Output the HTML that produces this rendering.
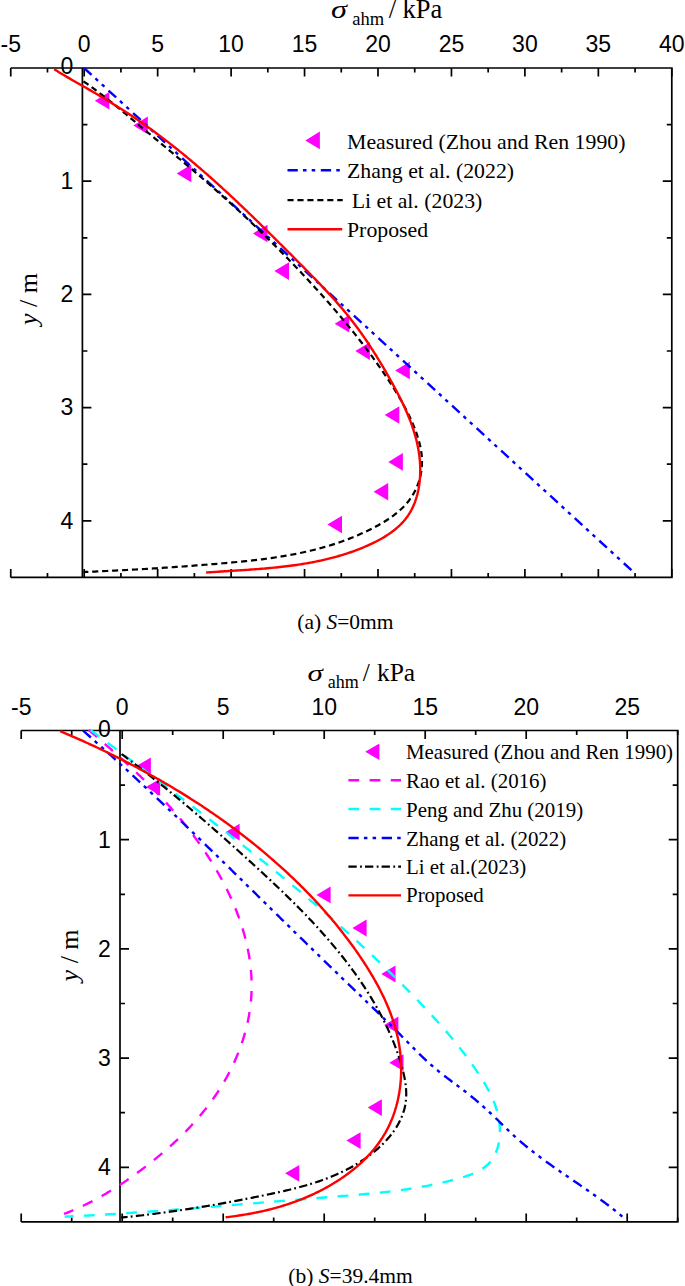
<!DOCTYPE html>
<html><head><meta charset="utf-8"><title>chart</title>
<style>
html,body{margin:0;padding:0;background:#fff;}
body{width:685px;height:1286px;overflow:hidden;font-family:"Liberation Sans",sans-serif;}
svg{display:block;}
</style></head><body>
<svg width="685" height="1286" viewBox="0 0 685 1286">
<rect width="685" height="1286" fill="#fff"/>
<path d="M10.75,68.00 H671.80 V577.40 H10.75" stroke="#000" stroke-width="1.7" fill="none"/>
<path d="M82.40,68.00 V577.40" stroke="#000" stroke-width="1.7" fill="none"/>
<path d="M10.75,68.00 v8.50 M10.75,577.40 v-8.50" stroke="#000" stroke-width="1.7" fill="none"/>
<text x="10.75" y="52.00" text-anchor="middle" font-family="Liberation Sans, sans-serif" font-size="23">-5</text>
<path d="M47.48,68.00 v4.50 M47.48,577.40 v-4.50" stroke="#000" stroke-width="1.7" fill="none"/>
<path d="M84.20,68.00 v8.50 M84.20,577.40 v-8.50" stroke="#000" stroke-width="1.7" fill="none"/>
<text x="84.20" y="52.00" text-anchor="middle" font-family="Liberation Sans, sans-serif" font-size="23">0</text>
<path d="M120.93,68.00 v4.50 M120.93,577.40 v-4.50" stroke="#000" stroke-width="1.7" fill="none"/>
<path d="M157.65,68.00 v8.50 M157.65,577.40 v-8.50" stroke="#000" stroke-width="1.7" fill="none"/>
<text x="157.65" y="52.00" text-anchor="middle" font-family="Liberation Sans, sans-serif" font-size="23">5</text>
<path d="M194.38,68.00 v4.50 M194.38,577.40 v-4.50" stroke="#000" stroke-width="1.7" fill="none"/>
<path d="M231.10,68.00 v8.50 M231.10,577.40 v-8.50" stroke="#000" stroke-width="1.7" fill="none"/>
<text x="231.10" y="52.00" text-anchor="middle" font-family="Liberation Sans, sans-serif" font-size="23">10</text>
<path d="M267.82,68.00 v4.50 M267.82,577.40 v-4.50" stroke="#000" stroke-width="1.7" fill="none"/>
<path d="M304.55,68.00 v8.50 M304.55,577.40 v-8.50" stroke="#000" stroke-width="1.7" fill="none"/>
<text x="304.55" y="52.00" text-anchor="middle" font-family="Liberation Sans, sans-serif" font-size="23">15</text>
<path d="M341.27,68.00 v4.50 M341.27,577.40 v-4.50" stroke="#000" stroke-width="1.7" fill="none"/>
<path d="M378.00,68.00 v8.50 M378.00,577.40 v-8.50" stroke="#000" stroke-width="1.7" fill="none"/>
<text x="378.00" y="52.00" text-anchor="middle" font-family="Liberation Sans, sans-serif" font-size="23">20</text>
<path d="M414.72,68.00 v4.50 M414.72,577.40 v-4.50" stroke="#000" stroke-width="1.7" fill="none"/>
<path d="M451.45,68.00 v8.50 M451.45,577.40 v-8.50" stroke="#000" stroke-width="1.7" fill="none"/>
<text x="451.45" y="52.00" text-anchor="middle" font-family="Liberation Sans, sans-serif" font-size="23">25</text>
<path d="M488.17,68.00 v4.50 M488.17,577.40 v-4.50" stroke="#000" stroke-width="1.7" fill="none"/>
<path d="M524.90,68.00 v8.50 M524.90,577.40 v-8.50" stroke="#000" stroke-width="1.7" fill="none"/>
<text x="524.90" y="52.00" text-anchor="middle" font-family="Liberation Sans, sans-serif" font-size="23">30</text>
<path d="M561.62,68.00 v4.50 M561.62,577.40 v-4.50" stroke="#000" stroke-width="1.7" fill="none"/>
<path d="M598.35,68.00 v8.50 M598.35,577.40 v-8.50" stroke="#000" stroke-width="1.7" fill="none"/>
<text x="598.35" y="52.00" text-anchor="middle" font-family="Liberation Sans, sans-serif" font-size="23">35</text>
<path d="M635.08,68.00 v4.50 M635.08,577.40 v-4.50" stroke="#000" stroke-width="1.7" fill="none"/>
<path d="M671.80,68.00 v8.50 M671.80,577.40 v-8.50" stroke="#000" stroke-width="1.7" fill="none"/>
<text x="671.80" y="52.00" text-anchor="middle" font-family="Liberation Sans, sans-serif" font-size="23">40</text>
<text x="73.40" y="74.40" text-anchor="end" font-family="Liberation Sans, sans-serif" font-size="23">0</text>
<path d="M82.40,124.60 h5.00 M671.80,124.60 h-5.00" stroke="#000" stroke-width="1.7" fill="none"/>
<path d="M82.40,181.20 h9.00 M671.80,181.20 h-9.00" stroke="#000" stroke-width="1.7" fill="none"/>
<text x="73.40" y="189.00" text-anchor="end" font-family="Liberation Sans, sans-serif" font-size="23">1</text>
<path d="M82.40,237.80 h5.00 M671.80,237.80 h-5.00" stroke="#000" stroke-width="1.7" fill="none"/>
<path d="M82.40,294.40 h9.00 M671.80,294.40 h-9.00" stroke="#000" stroke-width="1.7" fill="none"/>
<text x="73.40" y="302.20" text-anchor="end" font-family="Liberation Sans, sans-serif" font-size="23">2</text>
<path d="M82.40,351.00 h5.00 M671.80,351.00 h-5.00" stroke="#000" stroke-width="1.7" fill="none"/>
<path d="M82.40,407.60 h9.00 M671.80,407.60 h-9.00" stroke="#000" stroke-width="1.7" fill="none"/>
<text x="73.40" y="415.40" text-anchor="end" font-family="Liberation Sans, sans-serif" font-size="23">3</text>
<path d="M82.40,464.20 h5.00 M671.80,464.20 h-5.00" stroke="#000" stroke-width="1.7" fill="none"/>
<path d="M82.40,520.80 h9.00 M671.80,520.80 h-9.00" stroke="#000" stroke-width="1.7" fill="none"/>
<text x="73.40" y="528.60" text-anchor="end" font-family="Liberation Sans, sans-serif" font-size="23">4</text>
<path d="M21.20,730.50 H677.70 V1221.90 H21.20" stroke="#000" stroke-width="1.7" fill="none"/>
<path d="M120.00,730.50 V1221.90" stroke="#000" stroke-width="1.7" fill="none"/>
<path d="M21.20,730.50 v8.50 M21.20,1221.90 v-8.50" stroke="#000" stroke-width="1.7" fill="none"/>
<text x="21.20" y="714.50" text-anchor="middle" font-family="Liberation Sans, sans-serif" font-size="23">-5</text>
<path d="M71.70,730.50 v4.50 M71.70,1221.90 v-4.50" stroke="#000" stroke-width="1.7" fill="none"/>
<path d="M122.20,730.50 v8.50 M122.20,1221.90 v-8.50" stroke="#000" stroke-width="1.7" fill="none"/>
<text x="122.20" y="714.50" text-anchor="middle" font-family="Liberation Sans, sans-serif" font-size="23">0</text>
<path d="M172.70,730.50 v4.50 M172.70,1221.90 v-4.50" stroke="#000" stroke-width="1.7" fill="none"/>
<path d="M223.20,730.50 v8.50 M223.20,1221.90 v-8.50" stroke="#000" stroke-width="1.7" fill="none"/>
<text x="223.20" y="714.50" text-anchor="middle" font-family="Liberation Sans, sans-serif" font-size="23">5</text>
<path d="M273.70,730.50 v4.50 M273.70,1221.90 v-4.50" stroke="#000" stroke-width="1.7" fill="none"/>
<path d="M324.20,730.50 v8.50 M324.20,1221.90 v-8.50" stroke="#000" stroke-width="1.7" fill="none"/>
<text x="324.20" y="714.50" text-anchor="middle" font-family="Liberation Sans, sans-serif" font-size="23">10</text>
<path d="M374.70,730.50 v4.50 M374.70,1221.90 v-4.50" stroke="#000" stroke-width="1.7" fill="none"/>
<path d="M425.20,730.50 v8.50 M425.20,1221.90 v-8.50" stroke="#000" stroke-width="1.7" fill="none"/>
<text x="425.20" y="714.50" text-anchor="middle" font-family="Liberation Sans, sans-serif" font-size="23">15</text>
<path d="M475.70,730.50 v4.50 M475.70,1221.90 v-4.50" stroke="#000" stroke-width="1.7" fill="none"/>
<path d="M526.20,730.50 v8.50 M526.20,1221.90 v-8.50" stroke="#000" stroke-width="1.7" fill="none"/>
<text x="526.20" y="714.50" text-anchor="middle" font-family="Liberation Sans, sans-serif" font-size="23">20</text>
<path d="M576.70,730.50 v4.50 M576.70,1221.90 v-4.50" stroke="#000" stroke-width="1.7" fill="none"/>
<path d="M627.20,730.50 v8.50 M627.20,1221.90 v-8.50" stroke="#000" stroke-width="1.7" fill="none"/>
<text x="627.20" y="714.50" text-anchor="middle" font-family="Liberation Sans, sans-serif" font-size="23">25</text>
<path d="M677.70,730.50 v4.50 M677.70,1221.90 v-4.50" stroke="#000" stroke-width="1.7" fill="none"/>
<text x="110.80" y="736.90" text-anchor="end" font-family="Liberation Sans, sans-serif" font-size="23">0</text>
<path d="M120.00,785.10 h5.00 M677.70,785.10 h-5.00" stroke="#000" stroke-width="1.7" fill="none"/>
<path d="M120.00,839.70 h9.00 M677.70,839.70 h-9.00" stroke="#000" stroke-width="1.7" fill="none"/>
<text x="110.80" y="847.50" text-anchor="end" font-family="Liberation Sans, sans-serif" font-size="23">1</text>
<path d="M120.00,894.30 h5.00 M677.70,894.30 h-5.00" stroke="#000" stroke-width="1.7" fill="none"/>
<path d="M120.00,948.90 h9.00 M677.70,948.90 h-9.00" stroke="#000" stroke-width="1.7" fill="none"/>
<text x="110.80" y="956.70" text-anchor="end" font-family="Liberation Sans, sans-serif" font-size="23">2</text>
<path d="M120.00,1003.50 h5.00 M677.70,1003.50 h-5.00" stroke="#000" stroke-width="1.7" fill="none"/>
<path d="M120.00,1058.10 h9.00 M677.70,1058.10 h-9.00" stroke="#000" stroke-width="1.7" fill="none"/>
<text x="110.80" y="1065.90" text-anchor="end" font-family="Liberation Sans, sans-serif" font-size="23">3</text>
<path d="M120.00,1112.70 h5.00 M677.70,1112.70 h-5.00" stroke="#000" stroke-width="1.7" fill="none"/>
<path d="M120.00,1167.30 h9.00 M677.70,1167.30 h-9.00" stroke="#000" stroke-width="1.7" fill="none"/>
<text x="110.80" y="1175.10" text-anchor="end" font-family="Liberation Sans, sans-serif" font-size="23">4</text>
<polygon points="94.80,100.70 109.40,91.90 109.40,109.50" fill="#ff00ff"/>
<polygon points="133.30,125.40 147.90,116.60 147.90,134.20" fill="#ff00ff"/>
<polygon points="176.70,173.40 191.30,164.60 191.30,182.20" fill="#ff00ff"/>
<polygon points="252.90,233.50 267.50,224.70 267.50,242.30" fill="#ff00ff"/>
<polygon points="274.40,271.10 289.00,262.30 289.00,279.90" fill="#ff00ff"/>
<polygon points="334.70,323.80 349.30,315.00 349.30,332.60" fill="#ff00ff"/>
<polygon points="355.30,351.10 369.90,342.30 369.90,359.90" fill="#ff00ff"/>
<polygon points="395.20,370.50 409.80,361.70 409.80,379.30" fill="#ff00ff"/>
<polygon points="384.70,415.00 399.30,406.20 399.30,423.80" fill="#ff00ff"/>
<polygon points="388.30,461.90 402.90,453.10 402.90,470.70" fill="#ff00ff"/>
<polygon points="373.60,491.70 388.20,482.90 388.20,500.50" fill="#ff00ff"/>
<polygon points="327.40,524.50 342.00,515.70 342.00,533.30" fill="#ff00ff"/>
<path d="M84.00,68.00 L635.00,573.50" stroke="#0000ff" stroke-width="2.40" fill="none" stroke-dasharray="10.3 5.2 3.5 5.2 3.5 5.6" stroke-linejoin="round"/>
<path d="M83.49,81.38 L85.35,82.67 L87.21,83.97 L89.05,85.28 L90.89,86.60 L92.71,87.93 L94.53,89.26 L96.34,90.61 L98.15,91.97 L99.95,93.33 L101.74,94.70 L103.52,96.08 L105.30,97.46 L107.07,98.86 L108.83,100.25 L110.60,101.66 L112.35,103.07 L114.10,104.48 L115.85,105.90 L117.60,107.32 L119.34,108.75 L121.08,110.18 L122.81,111.62 L124.54,113.05 L126.28,114.49 L128.00,115.93 L129.73,117.38 L131.46,118.82 L133.19,120.27 L134.91,121.71 L136.64,123.16 L138.36,124.60 L140.09,126.05 L141.82,127.49 L143.55,128.94 L145.28,130.38 L147.01,131.82 L148.74,133.27 L150.47,134.71 L152.21,136.15 L153.94,137.59 L155.67,139.03 L157.40,140.47 L159.14,141.91 L160.87,143.36 L162.61,144.80 L164.34,146.24 L166.07,147.68 L167.81,149.12 L169.54,150.57 L171.27,152.01 L173.00,153.45 L174.74,154.90 L176.47,156.35 L178.20,157.79 L179.93,159.24 L181.65,160.69 L183.38,162.14 L185.11,163.59 L186.83,165.05 L188.56,166.50 L190.28,167.96 L192.00,169.42 L193.72,170.88 L195.44,172.34 L197.16,173.80 L198.87,175.27 L200.58,176.74 L202.29,178.21 L204.00,179.68 L205.71,181.16 L207.41,182.64 L209.12,184.12 L210.82,185.60 L212.51,187.09 L214.21,188.58 L215.90,190.07 L217.59,191.56 L219.28,193.06 L220.96,194.56 L222.65,196.07 L224.32,197.57 L226.00,199.08 L227.68,200.59 L229.35,202.11 L231.02,203.63 L232.68,205.15 L234.35,206.67 L236.01,208.20 L237.67,209.73 L239.32,211.26 L240.98,212.80 L242.63,214.34 L244.28,215.88 L245.92,217.42 L247.57,218.97 L249.21,220.52 L250.84,222.07 L252.48,223.63 L254.11,225.19 L255.74,226.75 L257.37,228.31 L258.99,229.88 L260.61,231.45 L262.23,233.02 L263.85,234.60 L265.46,236.17 L267.07,237.76 L268.68,239.34 L270.28,240.93 L271.88,242.52 L273.48,244.11 L275.08,245.70 L276.67,247.30 L278.26,248.90 L279.85,250.51 L281.43,252.11 L283.02,253.72 L284.60,255.33 L286.17,256.95 L287.75,258.57 L289.32,260.19 L290.88,261.81 L292.45,263.44 L294.01,265.06 L295.57,266.70 L297.13,268.33 L298.68,269.97 L300.23,271.61 L301.78,273.25 L303.32,274.89 L304.86,276.54 L306.40,278.19 L307.94,279.85 L309.47,281.50 L311.00,283.16 L312.53,284.82 L314.05,286.49 L315.57,288.16 L317.09,289.83 L318.60,291.50 L320.12,293.18 L321.62,294.85 L323.13,296.54 L324.63,298.22 L326.12,299.91 L327.62,301.60 L329.11,303.30 L330.59,304.99 L332.07,306.70 L333.55,308.40 L335.02,310.11 L336.49,311.82 L337.96,313.54 L339.42,315.25 L340.87,316.98 L342.33,318.70 L343.77,320.43 L345.21,322.17 L346.65,323.90 L348.08,325.65 L349.51,327.39 L350.93,329.14 L352.35,330.89 L353.76,332.65 L355.17,334.41 L356.57,336.18 L357.97,337.95 L359.36,339.72 L360.74,341.50 L362.12,343.28 L363.49,345.07 L364.86,346.86 L366.22,348.66 L367.58,350.46 L368.93,352.26 L370.27,354.07 L371.61,355.89 L372.94,357.71 L374.26,359.53 L375.58,361.36 L376.89,363.19 L378.20,365.03 L379.49,366.87 L380.79,368.72 L382.07,370.58 L383.35,372.44 L384.62,374.30 L385.88,376.17 L387.14,378.04 L388.38,379.92 L389.63,381.81 L390.86,383.70 L392.08,385.60 L393.30,387.50 L394.50,389.41 L395.69,391.33 L396.87,393.25 L398.04,395.18 L399.19,397.12 L400.33,399.07 L401.46,401.03 L402.57,403.00 L403.66,404.98 L404.73,406.97 L405.78,408.96 L406.82,410.97 L407.83,412.99 L408.83,415.03 L409.80,417.07 L410.75,419.12 L411.67,421.19 L412.57,423.27 L413.45,425.37 L414.30,427.48 L415.13,429.60 L415.92,431.74 L416.69,433.89 L417.41,436.05 L418.10,438.23 L418.75,440.41 L419.35,442.61 L419.90,444.81 L420.39,447.02 L420.82,449.24 L421.20,451.46 L421.50,453.69 L421.74,455.92 L421.90,458.15 L421.98,460.39 L421.99,462.63 L421.92,464.86 L421.77,467.09 L421.54,469.31 L421.24,471.52 L420.86,473.72 L420.41,475.91 L419.88,478.07 L419.28,480.22 L418.61,482.34 L417.87,484.44 L417.05,486.50 L416.17,488.54 L415.21,490.54 L414.19,492.51 L413.10,494.44 L411.94,496.33 L410.71,498.18 L409.42,499.97 L408.06,501.73 L406.65,503.43 L405.17,505.09 L403.63,506.71 L402.05,508.28 L400.41,509.81 L398.73,511.31 L397.00,512.76 L395.22,514.18 L393.41,515.56 L391.57,516.90 L389.69,518.21 L387.78,519.49 L385.84,520.73 L383.88,521.95 L381.90,523.13 L379.90,524.29 L377.88,525.42 L375.85,526.53 L373.81,527.61 L371.77,528.67 L369.71,529.70 L367.65,530.71 L365.59,531.71 L363.52,532.68 L361.44,533.62 L359.36,534.55 L357.27,535.46 L355.18,536.35 L353.09,537.21 L350.98,538.06 L348.88,538.89 L346.76,539.69 L344.65,540.48 L342.53,541.25 L340.40,542.01 L338.27,542.74 L336.13,543.46 L333.99,544.15 L331.85,544.84 L329.70,545.50 L327.55,546.15 L325.39,546.78 L323.23,547.40 L321.07,548.00 L318.90,548.58 L316.73,549.15 L314.55,549.70 L312.37,550.24 L310.19,550.77 L308.01,551.28 L305.82,551.78 L303.62,552.27 L301.43,552.74 L299.23,553.20 L297.03,553.64 L294.82,554.08 L292.62,554.50 L290.41,554.91 L288.19,555.31 L285.98,555.70 L283.76,556.07 L281.54,556.44 L279.32,556.80 L277.09,557.15 L274.87,557.48 L272.64,557.81 L270.41,558.13 L268.17,558.44 L265.94,558.74 L263.70,559.04 L261.47,559.32 L259.23,559.60 L256.99,559.87 L254.74,560.14 L252.50,560.39 L250.26,560.64 L248.01,560.89 L245.76,561.13 L243.52,561.36 L241.27,561.59 L239.02,561.81 L236.77,562.03 L234.52,562.25 L232.27,562.46 L230.02,562.66 L227.77,562.87 L225.51,563.07 L223.26,563.26 L221.01,563.46 L218.76,563.65 L216.50,563.84 L214.25,564.03 L212.00,564.22 L209.75,564.40 L207.50,564.58 L205.25,564.77 L202.99,564.94 L200.74,565.12 L198.49,565.30 L196.24,565.47 L193.99,565.64 L191.74,565.81 L189.49,565.98 L187.24,566.15 L184.98,566.31 L182.73,566.48 L180.48,566.64 L178.23,566.80 L175.98,566.96 L173.73,567.11 L171.48,567.27 L169.23,567.42 L166.97,567.57 L164.72,567.72 L162.47,567.87 L160.22,568.01 L157.97,568.16 L155.72,568.30 L153.47,568.44 L151.22,568.58 L148.96,568.72 L146.71,568.85 L144.46,568.99 L142.21,569.12 L139.96,569.25 L137.70,569.38 L135.45,569.51 L133.20,569.63 L130.95,569.76 L128.69,569.88 L126.44,570.00 L124.19,570.12 L121.93,570.24 L119.68,570.35 L117.43,570.47 L115.17,570.58 L112.92,570.69 L110.67,570.80 L108.41,570.91 L106.16,571.02 L103.90,571.12 L101.65,571.23 L99.39,571.33 L97.14,571.43 L94.88,571.53 L92.62,571.63 L90.37,571.73 L88.11,571.82 L85.86,571.91 L83.60,572.01" stroke="#000000" stroke-width="2.20" fill="none" stroke-dasharray="6.1 3.85" stroke-linejoin="round"/>
<path d="M54.16,69.16 L55.88,70.25 L57.61,71.33 L59.34,72.40 L61.08,73.46 L62.83,74.51 L64.59,75.56 L66.35,76.59 L68.12,77.62 L69.89,78.65 L71.66,79.67 L73.44,80.69 L75.23,81.70 L77.01,82.72 L78.80,83.73 L80.58,84.75 L82.37,85.77 L84.16,86.79 L85.95,87.81 L87.73,88.84 L89.52,89.87 L91.30,90.91 L93.09,91.94 L94.87,92.98 L96.65,94.03 L98.43,95.08 L100.21,96.13 L101.98,97.19 L103.76,98.25 L105.53,99.31 L107.30,100.38 L109.06,101.45 L110.83,102.53 L112.59,103.62 L114.35,104.70 L116.10,105.80 L117.85,106.90 L119.60,108.00 L121.35,109.11 L123.09,110.22 L124.82,111.34 L126.56,112.46 L128.28,113.59 L130.01,114.73 L131.73,115.87 L133.44,117.02 L135.15,118.17 L136.86,119.33 L138.56,120.50 L140.26,121.67 L141.95,122.85 L143.64,124.03 L145.32,125.22 L147.00,126.41 L148.67,127.61 L150.34,128.81 L152.01,130.02 L153.67,131.24 L155.33,132.46 L156.98,133.68 L158.64,134.91 L160.28,136.14 L161.92,137.38 L163.56,138.63 L165.20,139.88 L166.83,141.13 L168.45,142.39 L170.08,143.65 L171.70,144.92 L173.31,146.20 L174.93,147.47 L176.54,148.76 L178.14,150.04 L179.74,151.33 L181.34,152.63 L182.94,153.93 L184.53,155.23 L186.12,156.54 L187.70,157.85 L189.28,159.17 L190.86,160.49 L192.44,161.81 L194.01,163.14 L195.58,164.47 L197.15,165.80 L198.71,167.14 L200.27,168.48 L201.83,169.83 L203.38,171.18 L204.93,172.53 L206.48,173.89 L208.03,175.25 L209.57,176.61 L211.11,177.98 L212.65,179.35 L214.19,180.72 L215.72,182.10 L217.25,183.48 L218.78,184.86 L220.31,186.25 L221.83,187.64 L223.35,189.03 L224.87,190.42 L226.39,191.82 L227.90,193.22 L229.42,194.62 L230.93,196.03 L232.43,197.43 L233.94,198.84 L235.44,200.25 L236.95,201.67 L238.45,203.09 L239.95,204.51 L241.44,205.93 L242.94,207.35 L244.43,208.78 L245.92,210.20 L247.41,211.63 L248.90,213.07 L250.39,214.50 L251.87,215.93 L253.36,217.37 L254.84,218.81 L256.32,220.25 L257.80,221.69 L259.28,223.14 L260.75,224.58 L262.23,226.03 L263.70,227.48 L265.17,228.93 L266.65,230.38 L268.12,231.83 L269.59,233.28 L271.06,234.74 L272.52,236.19 L273.99,237.65 L275.46,239.11 L276.92,240.57 L278.38,242.03 L279.85,243.49 L281.31,244.95 L282.77,246.41 L284.23,247.87 L285.70,249.33 L287.16,250.80 L288.62,252.26 L290.07,253.72 L291.53,255.19 L292.99,256.65 L294.45,258.12 L295.91,259.59 L297.37,261.05 L298.82,262.52 L300.28,263.98 L301.73,265.45 L303.19,266.92 L304.64,268.39 L306.09,269.86 L307.54,271.33 L308.99,272.80 L310.44,274.28 L311.88,275.75 L313.32,277.23 L314.76,278.71 L316.19,280.19 L317.62,281.68 L319.05,283.17 L320.47,284.66 L321.89,286.15 L323.30,287.65 L324.71,289.15 L326.11,290.66 L327.51,292.17 L328.91,293.68 L330.30,295.20 L331.68,296.72 L333.05,298.24 L334.42,299.77 L335.79,301.31 L337.14,302.85 L338.49,304.40 L339.83,305.95 L341.17,307.50 L342.49,309.07 L343.81,310.63 L345.12,312.21 L346.42,313.79 L347.72,315.38 L349.00,316.97 L350.27,318.57 L351.54,320.18 L352.79,321.80 L354.04,323.42 L355.28,325.05 L356.50,326.68 L357.72,328.33 L358.93,329.98 L360.13,331.64 L361.32,333.30 L362.50,334.97 L363.68,336.65 L364.84,338.33 L366.00,340.02 L367.15,341.72 L368.29,343.42 L369.42,345.13 L370.55,346.85 L371.67,348.57 L372.78,350.29 L373.89,352.03 L374.99,353.77 L376.08,355.51 L377.16,357.26 L378.24,359.02 L379.31,360.78 L380.38,362.55 L381.44,364.32 L382.50,366.09 L383.55,367.88 L384.59,369.66 L385.63,371.46 L386.66,373.25 L387.69,375.06 L388.71,376.86 L389.73,378.67 L390.75,380.49 L391.76,382.31 L392.76,384.14 L393.76,385.97 L394.75,387.80 L395.73,389.64 L396.71,391.48 L397.68,393.33 L398.63,395.19 L399.58,397.05 L400.51,398.91 L401.43,400.78 L402.34,402.65 L403.24,404.53 L404.12,406.42 L404.98,408.31 L405.83,410.20 L406.67,412.10 L407.48,414.01 L408.28,415.92 L409.06,417.84 L409.82,419.76 L410.56,421.69 L411.27,423.62 L411.97,425.56 L412.64,427.51 L413.29,429.46 L413.92,431.42 L414.52,433.38 L415.10,435.35 L415.65,437.32 L416.17,439.31 L416.66,441.29 L417.13,443.29 L417.57,445.29 L417.97,447.29 L418.35,449.31 L418.69,451.32 L419.00,453.35 L419.28,455.38 L419.53,457.42 L419.74,459.46 L419.91,461.52 L420.05,463.57 L420.16,465.64 L420.22,467.71 L420.25,469.79 L420.24,471.87 L420.19,473.96 L420.09,476.04 L419.96,478.13 L419.79,480.21 L419.57,482.29 L419.30,484.36 L419.00,486.42 L418.65,488.47 L418.25,490.50 L417.80,492.52 L417.31,494.53 L416.77,496.51 L416.18,498.47 L415.54,500.42 L414.85,502.33 L414.10,504.22 L413.31,506.08 L412.46,507.91 L411.56,509.70 L410.60,511.46 L409.59,513.18 L408.52,514.87 L407.39,516.51 L406.21,518.11 L404.98,519.67 L403.69,521.19 L402.35,522.67 L400.96,524.11 L399.53,525.52 L398.05,526.89 L396.53,528.22 L394.97,529.52 L393.37,530.78 L391.73,532.01 L390.06,533.21 L388.36,534.37 L386.63,535.51 L384.87,536.61 L383.09,537.69 L381.28,538.73 L379.45,539.75 L377.60,540.74 L375.73,541.71 L373.85,542.65 L371.95,543.57 L370.05,544.46 L368.13,545.33 L366.20,546.18 L364.27,547.01 L362.34,547.82 L360.40,548.61 L358.45,549.37 L356.50,550.12 L354.55,550.85 L352.59,551.56 L350.63,552.25 L348.66,552.92 L346.69,553.58 L344.72,554.21 L342.74,554.83 L340.76,555.43 L338.77,556.02 L336.78,556.59 L334.79,557.14 L332.79,557.68 L330.79,558.20 L328.79,558.70 L326.78,559.19 L324.77,559.67 L322.76,560.13 L320.75,560.57 L318.73,561.01 L316.71,561.43 L314.69,561.83 L312.66,562.23 L310.63,562.61 L308.60,562.98 L306.57,563.33 L304.53,563.68 L302.50,564.01 L300.46,564.34 L298.42,564.65 L296.37,564.95 L294.33,565.24 L292.28,565.52 L290.24,565.79 L288.19,566.06 L286.14,566.31 L284.08,566.56 L282.03,566.79 L279.98,567.02 L277.92,567.24 L275.87,567.46 L273.81,567.66 L271.75,567.86 L269.70,568.06 L267.64,568.25 L265.58,568.43 L263.52,568.60 L261.46,568.77 L259.40,568.94 L257.34,569.10 L255.28,569.26 L253.22,569.41 L251.16,569.56 L249.10,569.71 L247.05,569.85 L244.99,569.99 L242.93,570.13 L240.87,570.27 L238.82,570.40 L236.76,570.53 L234.71,570.66 L232.65,570.79 L230.60,570.92 L228.55,571.05 L226.50,571.18 L224.45,571.31 L222.41,571.44 L220.36,571.57 L218.32,571.70 L216.28,571.84 L214.24,571.97 L212.20,572.11 L210.16,572.25 L208.13,572.39 L206.10,572.54" stroke="#ff0000" stroke-width="2.40" fill="none" stroke-linejoin="round"/>
<polygon points="136.70,765.80 150.90,757.40 150.90,774.20" fill="#ff00ff"/>
<polygon points="145.90,787.10 160.10,778.70 160.10,795.50" fill="#ff00ff"/>
<polygon points="225.40,832.20 239.60,823.80 239.60,840.60" fill="#ff00ff"/>
<polygon points="316.40,894.90 330.60,886.50 330.60,903.30" fill="#ff00ff"/>
<polygon points="352.40,928.00 366.60,919.60 366.60,936.40" fill="#ff00ff"/>
<polygon points="381.30,974.00 395.50,965.60 395.50,982.40" fill="#ff00ff"/>
<polygon points="384.20,1025.00 398.40,1016.60 398.40,1033.40" fill="#ff00ff"/>
<polygon points="389.30,1062.70 403.50,1054.30 403.50,1071.10" fill="#ff00ff"/>
<polygon points="367.70,1107.60 381.90,1099.20 381.90,1116.00" fill="#ff00ff"/>
<polygon points="346.40,1140.60 360.60,1132.20 360.60,1149.00" fill="#ff00ff"/>
<polygon points="285.10,1173.30 299.30,1164.90 299.30,1181.70" fill="#ff00ff"/>
<path d="M88.80,729.94 L90.01,730.98 L91.22,732.03 L92.43,733.07 L93.63,734.12 L94.84,735.16 L96.04,736.20 L97.24,737.25 L98.44,738.29 L99.63,739.33 L100.83,740.37 L102.02,741.42 L103.21,742.46 L104.40,743.50 L105.59,744.54 L106.78,745.59 L107.96,746.63 L109.14,747.67 L110.32,748.72 L111.50,749.76 L112.68,750.81 L113.85,751.85 L115.02,752.90 L116.19,753.95 L117.36,755.00 L118.52,756.04 L119.69,757.09 L120.85,758.14 L122.01,759.20 L123.16,760.25 L124.32,761.30 L125.47,762.36 L126.62,763.41 L127.76,764.47 L128.91,765.53 L130.05,766.59 L131.19,767.65 L132.33,768.71 L133.46,769.78 L134.60,770.84 L135.73,771.91 L136.85,772.98 L137.98,774.05 L139.10,775.13 L140.22,776.20 L141.33,777.28 L142.45,778.36 L143.56,779.44 L144.67,780.53 L145.77,781.61 L146.87,782.70 L147.97,783.79 L149.07,784.88 L150.16,785.98 L151.25,787.08 L152.34,788.18 L153.43,789.28 L154.51,790.39 L155.59,791.50 L156.66,792.61 L157.73,793.72 L158.80,794.84 L159.87,795.96 L160.93,797.09 L161.99,798.21 L163.05,799.34 L164.10,800.48 L165.15,801.61 L166.20,802.75 L167.24,803.90 L168.28,805.04 L169.32,806.19 L170.35,807.35 L171.38,808.51 L172.40,809.67 L173.43,810.83 L174.45,812.00 L175.46,813.18 L176.47,814.35 L177.48,815.53 L178.48,816.72 L179.48,817.91 L180.48,819.10 L181.47,820.30 L182.46,821.50 L183.45,822.71 L184.43,823.92 L185.41,825.13 L186.38,826.35 L187.35,827.58 L188.32,828.81 L189.28,830.04 L190.24,831.28 L191.19,832.52 L192.14,833.77 L193.09,835.03 L194.03,836.29 L194.97,837.55 L195.90,838.82 L196.83,840.09 L197.75,841.37 L198.67,842.65 L199.59,843.94 L200.50,845.23 L201.41,846.53 L202.31,847.83 L203.20,849.14 L204.09,850.45 L204.98,851.77 L205.86,853.09 L206.73,854.42 L207.60,855.74 L208.47,857.08 L209.33,858.42 L210.18,859.76 L211.03,861.11 L211.87,862.46 L212.70,863.81 L213.53,865.17 L214.35,866.53 L215.17,867.90 L215.98,869.27 L216.78,870.65 L217.58,872.03 L218.37,873.41 L219.15,874.80 L219.93,876.19 L220.69,877.58 L221.46,878.98 L222.21,880.38 L222.96,881.78 L223.70,883.19 L224.43,884.60 L225.16,886.02 L225.87,887.43 L226.58,888.86 L227.29,890.28 L227.98,891.71 L228.67,893.14 L229.34,894.57 L230.01,896.01 L230.68,897.45 L231.33,898.90 L231.97,900.34 L232.61,901.79 L233.24,903.24 L233.86,904.70 L234.47,906.16 L235.07,907.62 L235.66,909.08 L236.24,910.54 L236.81,912.01 L237.38,913.48 L237.93,914.96 L238.48,916.43 L239.01,917.91 L239.54,919.39 L240.05,920.87 L240.56,922.36 L241.06,923.85 L241.54,925.33 L242.02,926.83 L242.48,928.32 L242.94,929.81 L243.38,931.31 L243.82,932.81 L244.24,934.31 L244.65,935.82 L245.06,937.32 L245.45,938.83 L245.83,940.33 L246.20,941.84 L246.55,943.36 L246.90,944.87 L247.23,946.38 L247.56,947.90 L247.87,949.42 L248.17,950.94 L248.46,952.46 L248.74,953.98 L249.00,955.50 L249.25,957.02 L249.49,958.55 L249.72,960.07 L249.94,961.60 L250.14,963.13 L250.33,964.66 L250.51,966.19 L250.67,967.72 L250.83,969.25 L250.97,970.78 L251.09,972.32 L251.21,973.85 L251.31,975.38 L251.39,976.92 L251.47,978.46 L251.53,979.99 L251.58,981.53 L251.61,983.06 L251.63,984.60 L251.63,986.14 L251.62,987.68 L251.60,989.22 L251.57,990.75 L251.51,992.29 L251.45,993.83 L251.37,995.37 L251.28,996.91 L251.17,998.45 L251.04,999.98 L250.91,1001.52 L250.75,1003.06 L250.59,1004.60 L250.41,1006.14 L250.21,1007.67 L250.00,1009.21 L249.78,1010.74 L249.54,1012.28 L249.29,1013.81 L249.02,1015.34 L248.74,1016.87 L248.45,1018.40 L248.14,1019.93 L247.82,1021.45 L247.49,1022.98 L247.14,1024.50 L246.79,1026.02 L246.41,1027.54 L246.03,1029.06 L245.63,1030.57 L245.22,1032.08 L244.80,1033.59 L244.36,1035.10 L243.91,1036.60 L243.45,1038.10 L242.98,1039.60 L242.49,1041.10 L242.00,1042.59 L241.49,1044.08 L240.97,1045.57 L240.43,1047.05 L239.89,1048.53 L239.33,1050.01 L238.77,1051.48 L238.19,1052.95 L237.60,1054.41 L236.99,1055.87 L236.38,1057.33 L235.76,1058.78 L235.12,1060.23 L234.48,1061.67 L233.82,1063.11 L233.16,1064.54 L232.48,1065.97 L231.79,1067.40 L231.09,1068.82 L230.39,1070.23 L229.67,1071.64 L228.94,1073.05 L228.20,1074.44 L227.45,1075.84 L226.69,1077.23 L225.93,1078.61 L225.15,1079.98 L224.36,1081.35 L223.57,1082.72 L222.76,1084.08 L221.94,1085.43 L221.12,1086.77 L220.29,1088.11 L219.45,1089.44 L218.60,1090.77 L217.74,1092.09 L216.87,1093.40 L215.99,1094.71 L215.11,1096.01 L214.21,1097.30 L213.31,1098.59 L212.40,1099.87 L211.48,1101.14 L210.56,1102.41 L209.62,1103.67 L208.68,1104.92 L207.73,1106.17 L206.78,1107.41 L205.81,1108.65 L204.84,1109.88 L203.86,1111.10 L202.87,1112.32 L201.88,1113.53 L200.88,1114.73 L199.87,1115.93 L198.85,1117.12 L197.83,1118.31 L196.80,1119.49 L195.77,1120.67 L194.72,1121.84 L193.67,1123.00 L192.62,1124.16 L191.56,1125.31 L190.49,1126.46 L189.42,1127.60 L188.34,1128.73 L187.25,1129.86 L186.16,1130.99 L185.06,1132.11 L183.96,1133.22 L182.85,1134.33 L181.73,1135.43 L180.61,1136.53 L179.49,1137.62 L178.36,1138.71 L177.22,1139.79 L176.08,1140.86 L174.94,1141.93 L173.79,1143.00 L172.63,1144.06 L171.47,1145.12 L170.31,1146.17 L169.14,1147.21 L167.96,1148.25 L166.78,1149.29 L165.60,1150.32 L164.42,1151.35 L163.23,1152.37 L162.03,1153.38 L160.83,1154.40 L159.63,1155.40 L158.42,1156.41 L157.21,1157.40 L156.00,1158.40 L154.78,1159.38 L153.56,1160.37 L152.34,1161.35 L151.11,1162.32 L149.88,1163.29 L148.65,1164.26 L147.41,1165.22 L146.18,1166.18 L144.93,1167.13 L143.69,1168.08 L142.44,1169.03 L141.19,1169.97 L139.94,1170.90 L138.69,1171.83 L137.43,1172.76 L136.17,1173.68 L134.90,1174.60 L133.64,1175.51 L132.37,1176.42 L131.09,1177.32 L129.82,1178.22 L128.54,1179.11 L127.25,1180.00 L125.97,1180.88 L124.68,1181.76 L123.39,1182.63 L122.09,1183.50 L120.79,1184.36 L119.49,1185.21 L118.18,1186.06 L116.87,1186.90 L115.56,1187.74 L114.24,1188.57 L112.92,1189.40 L111.59,1190.22 L110.26,1191.03 L108.93,1191.84 L107.59,1192.64 L106.25,1193.43 L104.91,1194.22 L103.56,1195.00 L102.21,1195.77 L100.85,1196.54 L99.49,1197.30 L98.13,1198.06 L96.76,1198.81 L95.38,1199.55 L94.01,1200.28 L92.62,1201.01 L91.24,1201.72 L89.85,1202.44 L88.45,1203.14 L87.05,1203.84 L85.65,1204.53 L84.24,1205.21 L82.82,1205.88 L81.40,1206.55 L79.98,1207.21 L78.55,1207.86 L77.12,1208.51 L75.68,1209.14 L74.24,1209.77 L72.79,1210.39 L71.34,1211.00 L69.88,1211.60 L68.41,1212.19 L66.95,1212.78 L65.47,1213.36 L63.99,1213.93" stroke="#ff00ff" stroke-width="2.40" fill="none" stroke-dasharray="10.8 10.4" stroke-linejoin="round"/>
<path d="M90.74,730.17 L92.83,731.74 L94.92,733.30 L97.01,734.87 L99.09,736.43 L101.18,737.99 L103.28,739.56 L105.37,741.12 L107.46,742.68 L109.55,744.25 L111.65,745.81 L113.74,747.38 L115.84,748.94 L117.93,750.51 L120.03,752.07 L122.13,753.64 L124.22,755.20 L126.32,756.77 L128.42,758.34 L130.52,759.90 L132.62,761.47 L134.71,763.04 L136.81,764.61 L138.91,766.17 L141.01,767.74 L143.11,769.31 L145.21,770.88 L147.31,772.45 L149.41,774.03 L151.52,775.60 L153.62,777.17 L155.72,778.74 L157.82,780.32 L159.92,781.89 L162.02,783.47 L164.12,785.04 L166.22,786.62 L168.32,788.20 L170.42,789.78 L172.52,791.36 L174.61,792.94 L176.71,794.52 L178.81,796.10 L180.91,797.69 L183.01,799.27 L185.10,800.86 L187.20,802.45 L189.29,804.03 L191.39,805.62 L193.48,807.21 L195.58,808.81 L197.67,810.40 L199.76,811.99 L201.86,813.59 L203.95,815.18 L206.04,816.78 L208.13,818.38 L210.21,819.98 L212.30,821.58 L214.39,823.19 L216.47,824.79 L218.56,826.40 L220.64,828.00 L222.72,829.61 L224.81,831.22 L226.89,832.84 L228.97,834.45 L231.04,836.07 L233.12,837.68 L235.19,839.30 L237.27,840.92 L239.34,842.55 L241.41,844.17 L243.48,845.79 L245.55,847.42 L247.62,849.05 L249.68,850.68 L251.75,852.32 L253.81,853.95 L255.87,855.59 L257.93,857.23 L259.99,858.87 L262.04,860.51 L264.10,862.16 L266.15,863.80 L268.20,865.45 L270.25,867.10 L272.30,868.76 L274.34,870.41 L276.38,872.07 L278.42,873.73 L280.46,875.39 L282.50,877.06 L284.53,878.72 L286.57,880.39 L288.60,882.06 L290.63,883.74 L292.65,885.41 L294.68,887.09 L296.70,888.77 L298.72,890.45 L300.73,892.14 L302.75,893.83 L304.76,895.52 L306.77,897.21 L308.78,898.91 L310.78,900.61 L312.79,902.31 L314.79,904.01 L316.78,905.72 L318.78,907.43 L320.77,909.14 L322.76,910.86 L324.74,912.57 L326.73,914.29 L328.71,916.02 L330.69,917.74 L332.66,919.47 L334.64,921.21 L336.60,922.94 L338.57,924.68 L340.53,926.42 L342.49,928.16 L344.45,929.91 L346.41,931.66 L348.36,933.41 L350.31,935.17 L352.25,936.93 L354.19,938.69 L356.13,940.46 L358.06,942.23 L360.00,944.00 L361.92,945.78 L363.85,947.56 L365.77,949.34 L367.69,951.13 L369.60,952.91 L371.51,954.71 L373.42,956.50 L375.33,958.30 L377.23,960.11 L379.12,961.91 L381.02,963.72 L382.90,965.54 L384.79,967.35 L386.67,969.17 L388.55,971.00 L390.42,972.83 L392.29,974.66 L394.16,976.49 L396.02,978.33 L397.88,980.18 L399.73,982.02 L401.58,983.87 L403.43,985.73 L405.27,987.59 L407.11,989.45 L408.94,991.32 L410.77,993.19 L412.60,995.06 L414.42,996.94 L416.23,998.82 L418.05,1000.71 L419.85,1002.60 L421.66,1004.49 L423.46,1006.39 L425.25,1008.30 L427.04,1010.20 L428.82,1012.12 L430.60,1014.03 L432.37,1015.96 L434.14,1017.89 L435.90,1019.82 L437.65,1021.77 L439.40,1023.72 L441.14,1025.68 L442.87,1027.64 L444.59,1029.61 L446.31,1031.60 L448.01,1033.59 L449.71,1035.59 L451.40,1037.60 L453.08,1039.62 L454.75,1041.65 L456.40,1043.69 L458.05,1045.74 L459.69,1047.80 L461.32,1049.87 L462.93,1051.96 L464.54,1054.05 L466.13,1056.16 L467.71,1058.29 L469.27,1060.42 L470.83,1062.57 L472.37,1064.74 L473.90,1066.91 L475.41,1069.10 L476.91,1071.31 L478.40,1073.53 L479.87,1075.77 L481.31,1078.03 L482.74,1080.30 L484.13,1082.59 L485.49,1084.89 L486.81,1087.22 L488.10,1089.56 L489.34,1091.92 L490.52,1094.30 L491.66,1096.70 L492.74,1099.12 L493.76,1101.57 L494.72,1104.03 L495.61,1106.52 L496.42,1109.03 L497.16,1111.56 L497.82,1114.12 L498.40,1116.70 L498.88,1119.30 L499.28,1121.93 L499.58,1124.59 L499.78,1127.26 L499.88,1129.94 L499.88,1132.61 L499.77,1135.28 L499.55,1137.93 L499.22,1140.55 L498.77,1143.13 L498.21,1145.66 L497.53,1148.14 L496.73,1150.55 L495.81,1152.88 L494.75,1155.13 L493.57,1157.28 L492.26,1159.33 L490.81,1161.27 L489.22,1163.08 L487.50,1164.77 L485.66,1166.35 L483.71,1167.83 L481.65,1169.20 L479.49,1170.48 L477.25,1171.67 L474.93,1172.78 L472.54,1173.81 L470.09,1174.78 L467.59,1175.69 L465.05,1176.55 L462.47,1177.35 L459.87,1178.12 L457.26,1178.86 L454.64,1179.57 L452.01,1180.25 L449.39,1180.92 L446.77,1181.56 L444.16,1182.19 L441.54,1182.80 L438.92,1183.38 L436.31,1183.95 L433.69,1184.50 L431.08,1185.04 L428.46,1185.56 L425.85,1186.06 L423.24,1186.54 L420.63,1187.01 L418.02,1187.46 L415.41,1187.90 L412.80,1188.32 L410.19,1188.73 L407.58,1189.13 L404.97,1189.52 L402.36,1189.89 L399.75,1190.25 L397.15,1190.59 L394.54,1190.93 L391.93,1191.26 L389.33,1191.57 L386.72,1191.88 L384.12,1192.18 L381.51,1192.46 L378.90,1192.74 L376.30,1193.02 L373.69,1193.28 L371.09,1193.54 L368.48,1193.79 L365.88,1194.03 L363.27,1194.27 L360.66,1194.51 L358.06,1194.74 L355.45,1194.96 L352.85,1195.18 L350.24,1195.40 L347.63,1195.61 L345.02,1195.83 L342.42,1196.04 L339.81,1196.24 L337.20,1196.45 L334.59,1196.66 L331.98,1196.87 L329.37,1197.07 L326.76,1197.28 L324.15,1197.49 L321.54,1197.70 L318.92,1197.91 L316.31,1198.12 L313.70,1198.33 L311.08,1198.54 L308.47,1198.76 L305.85,1198.97 L303.24,1199.19 L300.62,1199.40 L298.01,1199.62 L295.39,1199.83 L292.77,1200.05 L290.15,1200.27 L287.54,1200.48 L284.92,1200.70 L282.30,1200.92 L279.68,1201.14 L277.06,1201.35 L274.44,1201.57 L271.82,1201.79 L269.20,1202.01 L266.58,1202.23 L263.96,1202.45 L261.33,1202.67 L258.71,1202.89 L256.09,1203.11 L253.47,1203.33 L250.85,1203.54 L248.22,1203.76 L245.60,1203.98 L242.98,1204.20 L240.35,1204.42 L237.73,1204.64 L235.10,1204.85 L232.48,1205.07 L229.85,1205.29 L227.23,1205.50 L224.61,1205.72 L221.98,1205.94 L219.36,1206.15 L216.73,1206.37 L214.10,1206.58 L211.48,1206.79 L208.85,1207.01 L206.23,1207.22 L203.60,1207.43 L200.98,1207.64 L198.35,1207.85 L195.73,1208.06 L193.10,1208.27 L190.47,1208.47 L187.85,1208.68 L185.22,1208.89 L182.60,1209.09 L179.97,1209.29 L177.35,1209.50 L174.72,1209.70 L172.10,1209.90 L169.47,1210.09 L166.84,1210.29 L164.22,1210.49 L161.59,1210.68 L158.97,1210.88 L156.34,1211.07 L153.72,1211.26 L151.10,1211.45 L148.47,1211.64 L145.85,1211.83 L143.22,1212.01 L140.60,1212.19 L137.98,1212.38 L135.35,1212.56 L132.73,1212.74 L130.11,1212.91 L127.48,1213.09 L124.86,1213.26 L122.24,1213.43 L119.62,1213.60 L117.00,1213.77 L114.38,1213.94 L111.75,1214.10 L109.13,1214.27 L106.51,1214.43 L103.89,1214.58 L101.28,1214.74 L98.66,1214.90 L96.04,1215.05 L93.42,1215.20 L90.80,1215.35 L88.18,1215.49 L85.57,1215.63 L82.95,1215.78 L80.34,1215.91 L77.72,1216.05 L75.11,1216.18 L72.49,1216.32 L69.88,1216.44 L67.26,1216.57 L64.65,1216.69" stroke="#00ffff" stroke-width="2.40" fill="none" stroke-dasharray="10.8 10.4" stroke-linejoin="round"/>
<path d="M83.16,730.69 L84.53,731.90 L85.89,733.10 L87.26,734.31 L88.62,735.52 L89.99,736.73 L91.35,737.94 L92.71,739.15 L94.07,740.36 L95.43,741.57 L96.79,742.79 L98.15,744.00 L99.51,745.22 L100.86,746.44 L102.22,747.65 L103.57,748.87 L104.93,750.09 L106.28,751.31 L107.63,752.54 L108.98,753.76 L110.33,754.98 L111.68,756.21 L113.03,757.43 L114.38,758.66 L115.73,759.89 L117.07,761.12 L118.42,762.34 L119.76,763.57 L121.11,764.81 L122.45,766.04 L123.79,767.27 L125.13,768.50 L126.47,769.74 L127.82,770.97 L129.15,772.21 L130.49,773.45 L131.83,774.68 L133.17,775.92 L134.51,777.16 L135.84,778.40 L137.18,779.64 L138.51,780.88 L139.84,782.13 L141.18,783.37 L142.51,784.61 L143.84,785.86 L145.17,787.10 L146.50,788.35 L147.83,789.60 L149.16,790.84 L150.49,792.09 L151.82,793.34 L153.15,794.59 L154.47,795.84 L155.80,797.09 L157.13,798.34 L158.45,799.59 L159.78,800.85 L161.10,802.10 L162.42,803.35 L163.75,804.61 L165.07,805.86 L166.39,807.12 L167.71,808.38 L169.03,809.63 L170.35,810.89 L171.67,812.15 L172.99,813.41 L174.31,814.67 L175.63,815.93 L176.94,817.19 L178.26,818.45 L179.58,819.71 L180.90,820.97 L182.21,822.23 L183.53,823.50 L184.84,824.76 L186.16,826.02 L187.47,827.29 L188.78,828.55 L190.10,829.82 L191.41,831.08 L192.72,832.35 L194.03,833.61 L195.35,834.88 L196.66,836.15 L197.97,837.42 L199.28,838.68 L200.59,839.95 L201.90,841.22 L203.21,842.49 L204.52,843.76 L205.83,845.03 L207.13,846.30 L208.44,847.57 L209.75,848.84 L211.06,850.11 L212.37,851.39 L213.67,852.66 L214.98,853.93 L216.29,855.20 L217.59,856.48 L218.90,857.75 L220.20,859.02 L221.51,860.30 L222.82,861.57 L224.12,862.84 L225.43,864.12 L226.73,865.39 L228.03,866.67 L229.34,867.94 L230.64,869.22 L231.95,870.49 L233.25,871.77 L234.55,873.04 L235.86,874.32 L237.16,875.60 L238.46,876.87 L239.77,878.15 L241.07,879.43 L242.37,880.70 L243.67,881.98 L244.98,883.26 L246.28,884.53 L247.58,885.81 L248.88,887.09 L250.18,888.36 L251.49,889.64 L252.79,890.92 L254.09,892.20 L255.39,893.47 L256.69,894.75 L258.00,896.03 L259.30,897.31 L260.60,898.59 L261.90,899.86 L263.20,901.14 L264.50,902.42 L265.80,903.70 L267.11,904.97 L268.41,906.25 L269.71,907.53 L271.01,908.81 L272.31,910.08 L273.61,911.36 L274.92,912.64 L276.22,913.92 L277.52,915.19 L278.82,916.47 L280.12,917.75 L281.42,919.03 L282.73,920.30 L284.03,921.58 L285.33,922.86 L286.63,924.13 L287.94,925.41 L289.24,926.68 L290.54,927.96 L291.85,929.24 L293.15,930.51 L294.45,931.79 L295.75,933.06 L297.06,934.34 L298.36,935.61 L299.67,936.89 L300.97,938.16 L302.27,939.44 L303.58,940.71 L304.88,941.98 L306.19,943.26 L307.49,944.53 L308.80,945.80 L310.11,947.08 L311.41,948.35 L312.72,949.62 L314.02,950.89 L315.33,952.16 L316.64,953.43 L317.94,954.70 L319.25,955.98 L320.56,957.25 L321.87,958.51 L323.18,959.78 L324.49,961.05 L325.79,962.32 L327.10,963.59 L328.41,964.86 L329.72,966.12 L331.03,967.39 L332.34,968.66 L333.66,969.92 L334.97,971.19 L336.28,972.46 L337.59,973.72 L338.90,974.99 L340.22,976.25 L341.53,977.51 L342.84,978.78 L344.16,980.04 L345.47,981.30 L346.78,982.57 L348.10,983.83 L349.41,985.09 L350.72,986.36 L352.04,987.62 L353.35,988.88 L354.66,990.15 L355.98,991.41 L357.29,992.67 L358.60,993.94 L359.91,995.20 L361.23,996.47 L362.54,997.73 L363.85,999.00 L365.16,1000.26 L366.47,1001.53 L367.78,1002.79 L369.09,1004.06 L370.40,1005.33 L371.70,1006.60 L373.01,1007.86 L374.32,1009.13 L375.62,1010.40 L376.93,1011.67 L378.23,1012.95 L379.54,1014.22 L380.84,1015.49 L382.14,1016.77 L383.44,1018.04 L384.74,1019.32 L386.04,1020.59 L387.34,1021.87 L388.64,1023.15 L389.93,1024.43 L391.23,1025.71 L392.52,1026.99 L393.81,1028.28 L395.10,1029.56 L396.39,1030.85 L397.68,1032.14 L398.97,1033.43 L400.25,1034.72 L401.54,1036.01 L402.82,1037.30 L404.10,1038.60 L405.38,1039.89 L406.66,1041.19 L407.94,1042.49 L409.21,1043.78 L410.49,1045.08 L411.77,1046.37 L413.06,1047.67 L414.34,1048.96 L415.63,1050.24 L416.92,1051.53 L418.21,1052.81 L419.51,1054.08 L420.81,1055.35 L422.12,1056.62 L423.43,1057.87 L424.75,1059.13 L426.08,1060.37 L427.42,1061.60 L428.76,1062.83 L430.11,1064.05 L431.47,1065.25 L432.84,1066.45 L434.22,1067.64 L435.61,1068.81 L437.01,1069.98 L438.42,1071.13 L439.84,1072.27 L441.26,1073.41 L442.70,1074.53 L444.14,1075.65 L445.58,1076.77 L447.03,1077.88 L448.49,1078.98 L449.95,1080.08 L451.41,1081.18 L452.87,1082.27 L454.34,1083.37 L455.80,1084.46 L457.26,1085.55 L458.73,1086.65 L460.19,1087.75 L461.65,1088.85 L463.10,1089.95 L464.55,1091.06 L465.99,1092.17 L467.43,1093.29 L468.87,1094.42 L470.29,1095.56 L471.71,1096.70 L473.12,1097.85 L474.52,1099.01 L475.91,1100.18 L477.30,1101.36 L478.68,1102.54 L480.05,1103.73 L481.41,1104.93 L482.77,1106.14 L484.13,1107.35 L485.47,1108.56 L486.82,1109.79 L488.15,1111.01 L489.49,1112.25 L490.81,1113.49 L492.13,1114.73 L493.45,1115.98 L494.76,1117.23 L496.07,1118.49 L497.38,1119.74 L498.68,1121.01 L499.99,1122.27 L501.29,1123.53 L502.59,1124.80 L503.89,1126.06 L505.19,1127.32 L506.49,1128.58 L507.80,1129.84 L509.11,1131.09 L510.42,1132.34 L511.74,1133.58 L513.07,1134.82 L514.40,1136.05 L515.73,1137.27 L517.08,1138.48 L518.43,1139.69 L519.79,1140.88 L521.16,1142.07 L522.54,1143.24 L523.92,1144.41 L525.32,1145.57 L526.72,1146.73 L528.13,1147.87 L529.54,1149.01 L530.96,1150.14 L532.39,1151.26 L533.82,1152.38 L535.26,1153.49 L536.71,1154.59 L538.16,1155.69 L539.62,1156.78 L541.08,1157.87 L542.54,1158.95 L544.01,1160.03 L545.48,1161.10 L546.96,1162.17 L548.44,1163.24 L549.93,1164.30 L551.42,1165.36 L552.91,1166.41 L554.40,1167.47 L555.90,1168.52 L557.39,1169.56 L558.90,1170.61 L560.40,1171.65 L561.90,1172.69 L563.41,1173.73 L564.92,1174.77 L566.42,1175.80 L567.93,1176.84 L569.44,1177.88 L570.95,1178.91 L572.47,1179.94 L573.98,1180.98 L575.49,1182.01 L577.00,1183.05 L578.51,1184.09 L580.01,1185.12 L581.52,1186.16 L583.03,1187.20 L584.53,1188.24 L586.04,1189.28 L587.54,1190.33 L589.04,1191.38 L590.53,1192.43 L592.03,1193.48 L593.52,1194.54 L595.01,1195.60 L596.50,1196.66 L597.98,1197.72 L599.46,1198.80 L600.93,1199.87 L602.40,1200.95 L603.87,1202.03 L605.33,1203.12 L606.79,1204.22 L608.24,1205.31 L609.69,1206.42 L611.13,1207.53 L612.57,1208.65 L614.00,1209.77 L615.42,1210.90 L616.84,1212.04 L618.25,1213.18 L619.66,1214.33 L621.06,1215.49 L622.45,1216.65" stroke="#0000ff" stroke-width="2.40" fill="none" stroke-dasharray="10.3 5.2 3.5 5.2 3.5 5.6" stroke-linejoin="round"/>
<path d="M121.53,754.03 L123.13,755.22 L124.72,756.40 L126.31,757.59 L127.90,758.78 L129.49,759.97 L131.07,761.17 L132.65,762.36 L134.23,763.56 L135.80,764.76 L137.38,765.97 L138.95,767.17 L140.51,768.38 L142.08,769.59 L143.64,770.80 L145.20,772.01 L146.75,773.22 L148.31,774.44 L149.86,775.66 L151.41,776.88 L152.95,778.10 L154.50,779.33 L156.04,780.55 L157.58,781.78 L159.11,783.01 L160.65,784.24 L162.18,785.48 L163.71,786.71 L165.24,787.95 L166.76,789.19 L168.29,790.43 L169.81,791.68 L171.33,792.92 L172.85,794.17 L174.36,795.42 L175.88,796.67 L177.39,797.92 L178.90,799.18 L180.41,800.43 L181.91,801.69 L183.42,802.95 L184.92,804.21 L186.42,805.48 L187.92,806.74 L189.42,808.01 L190.92,809.28 L192.41,810.55 L193.91,811.82 L195.40,813.09 L196.89,814.37 L198.38,815.65 L199.87,816.93 L201.36,818.21 L202.84,819.49 L204.33,820.77 L205.81,822.06 L207.29,823.34 L208.77,824.63 L210.25,825.92 L211.73,827.22 L213.21,828.51 L214.69,829.80 L216.16,831.10 L217.64,832.40 L219.11,833.70 L220.58,835.00 L222.06,836.30 L223.53,837.61 L225.00,838.91 L226.47,840.22 L227.94,841.53 L229.41,842.84 L230.87,844.15 L232.34,845.46 L233.81,846.78 L235.27,848.10 L236.74,849.41 L238.21,850.73 L239.67,852.05 L241.14,853.37 L242.60,854.70 L244.06,856.02 L245.53,857.35 L246.99,858.68 L248.45,860.00 L249.92,861.33 L251.38,862.67 L252.84,864.00 L254.30,865.33 L255.76,866.67 L257.22,868.01 L258.68,869.35 L260.14,870.69 L261.59,872.03 L263.05,873.38 L264.50,874.73 L265.95,876.08 L267.41,877.43 L268.85,878.78 L270.30,880.14 L271.75,881.50 L273.19,882.86 L274.63,884.22 L276.07,885.58 L277.51,886.95 L278.94,888.32 L280.38,889.69 L281.81,891.07 L283.23,892.44 L284.66,893.82 L286.08,895.20 L287.50,896.59 L288.92,897.98 L290.33,899.37 L291.74,900.76 L293.15,902.16 L294.55,903.55 L295.95,904.96 L297.35,906.36 L298.74,907.77 L300.13,909.18 L301.52,910.59 L302.90,912.01 L304.28,913.43 L305.65,914.86 L307.02,916.28 L308.38,917.71 L309.75,919.15 L311.10,920.59 L312.46,922.03 L313.80,923.47 L315.15,924.92 L316.48,926.37 L317.82,927.83 L319.15,929.29 L320.47,930.75 L321.79,932.22 L323.10,933.69 L324.41,935.16 L325.71,936.64 L327.01,938.13 L328.30,939.61 L329.58,941.10 L330.86,942.60 L332.13,944.10 L333.40,945.60 L334.66,947.11 L335.92,948.62 L337.17,950.14 L338.41,951.66 L339.65,953.19 L340.87,954.72 L342.10,956.25 L343.31,957.79 L344.52,959.34 L345.72,960.89 L346.92,962.44 L348.11,964.00 L349.29,965.57 L350.46,967.13 L351.63,968.71 L352.79,970.29 L353.94,971.87 L355.08,973.46 L356.22,975.05 L357.35,976.65 L358.47,978.26 L359.58,979.87 L360.68,981.48 L361.78,983.10 L362.86,984.73 L363.94,986.36 L365.01,988.00 L366.07,989.64 L367.13,991.29 L368.17,992.94 L369.20,994.60 L370.23,996.27 L371.25,997.94 L372.26,999.62 L373.25,1001.30 L374.24,1002.99 L375.22,1004.68 L376.19,1006.38 L377.15,1008.09 L378.10,1009.81 L379.05,1011.52 L379.98,1013.25 L380.90,1014.98 L381.81,1016.72 L382.71,1018.47 L383.60,1020.22 L384.48,1021.98 L385.35,1023.74 L386.20,1025.52 L387.05,1027.30 L387.89,1029.09 L388.71,1030.88 L389.52,1032.69 L390.32,1034.50 L391.11,1036.32 L391.88,1038.15 L392.64,1039.99 L393.39,1041.83 L394.13,1043.69 L394.85,1045.55 L395.56,1047.43 L396.26,1049.31 L396.94,1051.21 L397.61,1053.11 L398.27,1055.02 L398.91,1056.94 L399.54,1058.88 L400.15,1060.82 L400.75,1062.77 L401.33,1064.74 L401.89,1066.71 L402.42,1068.68 L402.93,1070.66 L403.42,1072.65 L403.87,1074.63 L404.29,1076.62 L404.68,1078.61 L405.02,1080.60 L405.33,1082.58 L405.60,1084.56 L405.83,1086.53 L406.00,1088.50 L406.13,1090.46 L406.21,1092.41 L406.23,1094.35 L406.20,1096.28 L406.11,1098.19 L405.96,1100.10 L405.74,1101.98 L405.47,1103.85 L405.13,1105.71 L404.73,1107.54 L404.27,1109.36 L403.75,1111.17 L403.18,1112.95 L402.55,1114.72 L401.87,1116.48 L401.14,1118.21 L400.35,1119.93 L399.52,1121.62 L398.64,1123.30 L397.71,1124.97 L396.73,1126.61 L395.71,1128.23 L394.65,1129.84 L393.55,1131.43 L392.41,1132.99 L391.22,1134.54 L390.00,1136.07 L388.75,1137.57 L387.45,1139.06 L386.13,1140.53 L384.77,1141.97 L383.38,1143.40 L381.97,1144.80 L380.52,1146.18 L379.05,1147.54 L377.55,1148.88 L376.03,1150.20 L374.49,1151.49 L372.92,1152.77 L371.33,1154.02 L369.73,1155.25 L368.11,1156.45 L366.47,1157.63 L364.81,1158.79 L363.15,1159.93 L361.47,1161.04 L359.78,1162.13 L358.08,1163.19 L356.37,1164.23 L354.66,1165.25 L352.93,1166.24 L351.20,1167.21 L349.46,1168.16 L347.71,1169.09 L345.95,1170.00 L344.18,1170.88 L342.41,1171.75 L340.63,1172.59 L338.84,1173.42 L337.04,1174.23 L335.24,1175.02 L333.43,1175.79 L331.61,1176.54 L329.79,1177.27 L327.96,1177.99 L326.13,1178.70 L324.29,1179.38 L322.44,1180.05 L320.59,1180.71 L318.73,1181.35 L316.87,1181.98 L315.00,1182.59 L313.13,1183.19 L311.26,1183.78 L309.38,1184.35 L307.49,1184.91 L305.60,1185.46 L303.71,1186.00 L301.81,1186.53 L299.91,1187.04 L298.01,1187.55 L296.10,1188.05 L294.19,1188.54 L292.28,1189.02 L290.36,1189.49 L288.44,1189.95 L286.52,1190.41 L284.60,1190.86 L282.68,1191.30 L280.75,1191.74 L278.83,1192.17 L276.90,1192.59 L274.97,1193.01 L273.03,1193.43 L271.10,1193.84 L269.17,1194.25 L267.24,1194.66 L265.30,1195.06 L263.37,1195.46 L261.44,1195.86 L259.50,1196.25 L257.57,1196.64 L255.63,1197.03 L253.70,1197.42 L251.76,1197.81 L249.83,1198.19 L247.89,1198.57 L245.96,1198.95 L244.02,1199.33 L242.09,1199.70 L240.15,1200.07 L238.21,1200.44 L236.28,1200.81 L234.34,1201.17 L232.40,1201.53 L230.46,1201.89 L228.53,1202.24 L226.59,1202.60 L224.65,1202.95 L222.71,1203.30 L220.77,1203.64 L218.83,1203.98 L216.89,1204.32 L214.95,1204.66 L213.01,1205.00 L211.06,1205.33 L209.12,1205.66 L207.18,1205.99 L205.24,1206.31 L203.29,1206.63 L201.35,1206.95 L199.40,1207.27 L197.46,1207.58 L195.51,1207.89 L193.57,1208.20 L191.62,1208.51 L189.67,1208.81 L187.73,1209.11 L185.78,1209.41 L183.83,1209.70 L181.88,1210.00 L179.93,1210.28 L177.98,1210.57 L176.03,1210.85 L174.08,1211.13 L172.13,1211.41 L170.17,1211.69 L168.22,1211.96 L166.27,1212.23 L164.31,1212.50 L162.36,1212.76 L160.40,1213.02 L158.44,1213.28 L156.49,1213.53 L154.53,1213.79 L152.57,1214.03 L150.61,1214.28 L148.65,1214.52 L146.69,1214.76 L144.73,1215.00 L142.76,1215.24 L140.80,1215.47 L138.84,1215.70 L136.87,1215.92 L134.91,1216.14 L132.94,1216.36 L130.97,1216.58 L129.01,1216.79 L127.04,1217.00 L125.07,1217.21 L123.10,1217.41 L121.13,1217.62" stroke="#000000" stroke-width="2.20" fill="none" stroke-dasharray="8.3 3.4 1.8 3.1" stroke-linejoin="round"/>
<path d="M60.11,731.12 L61.85,731.86 L63.59,732.61 L65.33,733.35 L67.06,734.10 L68.80,734.85 L70.54,735.60 L72.27,736.35 L74.00,737.11 L75.74,737.87 L77.47,738.63 L79.20,739.39 L80.93,740.16 L82.66,740.93 L84.38,741.70 L86.11,742.48 L87.83,743.26 L89.55,744.05 L91.27,744.84 L92.99,745.63 L94.71,746.43 L96.42,747.23 L98.13,748.03 L99.85,748.84 L101.55,749.65 L103.26,750.47 L104.97,751.29 L106.67,752.11 L108.37,752.94 L110.07,753.77 L111.77,754.60 L113.47,755.44 L115.16,756.28 L116.86,757.13 L118.55,757.98 L120.24,758.83 L121.93,759.69 L123.61,760.54 L125.29,761.41 L126.98,762.27 L128.66,763.14 L130.33,764.02 L132.01,764.89 L133.68,765.77 L135.36,766.66 L137.03,767.54 L138.70,768.43 L140.36,769.33 L142.03,770.22 L143.69,771.12 L145.35,772.03 L147.01,772.94 L148.66,773.85 L150.32,774.76 L151.97,775.68 L153.62,776.61 L155.27,777.53 L156.91,778.46 L158.56,779.40 L160.20,780.33 L161.84,781.27 L163.47,782.22 L165.11,783.17 L166.74,784.12 L168.37,785.08 L170.00,786.04 L171.63,787.00 L173.25,787.97 L174.87,788.95 L176.49,789.92 L178.11,790.90 L179.72,791.89 L181.34,792.88 L182.95,793.87 L184.55,794.87 L186.16,795.87 L187.76,796.87 L189.36,797.88 L190.96,798.90 L192.56,799.91 L194.15,800.94 L195.74,801.96 L197.33,802.99 L198.92,804.03 L200.50,805.07 L202.08,806.11 L203.66,807.16 L205.24,808.21 L206.81,809.27 L208.38,810.33 L209.95,811.39 L211.51,812.46 L213.08,813.54 L214.64,814.62 L216.20,815.70 L217.75,816.79 L219.30,817.88 L220.85,818.98 L222.40,820.08 L223.94,821.18 L225.48,822.29 L227.02,823.40 L228.55,824.52 L230.09,825.64 L231.61,826.77 L233.14,827.90 L234.66,829.03 L236.18,830.17 L237.70,831.32 L239.21,832.47 L240.72,833.62 L242.23,834.77 L243.73,835.93 L245.23,837.10 L246.72,838.27 L248.22,839.44 L249.71,840.62 L251.19,841.80 L252.67,842.99 L254.15,844.18 L255.63,845.37 L257.10,846.57 L258.57,847.77 L260.03,848.98 L261.49,850.19 L262.95,851.41 L264.40,852.63 L265.85,853.85 L267.30,855.08 L268.74,856.31 L270.18,857.55 L271.61,858.79 L273.04,860.03 L274.47,861.28 L275.89,862.54 L277.31,863.79 L278.72,865.05 L280.13,866.32 L281.54,867.59 L282.94,868.86 L284.33,870.14 L285.73,871.42 L287.11,872.71 L288.50,874.00 L289.88,875.29 L291.25,876.59 L292.63,877.89 L293.99,879.20 L295.35,880.51 L296.71,881.82 L298.06,883.14 L299.41,884.46 L300.76,885.79 L302.10,887.12 L303.43,888.46 L304.76,889.80 L306.09,891.14 L307.41,892.49 L308.72,893.84 L310.03,895.20 L311.34,896.56 L312.64,897.93 L313.93,899.30 L315.22,900.68 L316.51,902.06 L317.79,903.44 L319.06,904.83 L320.33,906.23 L321.60,907.63 L322.85,909.03 L324.11,910.44 L325.36,911.85 L326.60,913.27 L327.84,914.70 L329.07,916.12 L330.29,917.56 L331.52,919.00 L332.73,920.44 L333.94,921.89 L335.14,923.34 L336.34,924.80 L337.53,926.26 L338.72,927.73 L339.90,929.21 L341.08,930.68 L342.24,932.17 L343.41,933.66 L344.56,935.15 L345.72,936.65 L346.86,938.16 L348.00,939.67 L349.13,941.19 L350.26,942.71 L351.38,944.24 L352.49,945.77 L353.60,947.31 L354.70,948.85 L355.79,950.40 L356.88,951.96 L357.96,953.52 L359.04,955.08 L360.11,956.66 L361.17,958.23 L362.23,959.82 L363.27,961.41 L364.32,963.00 L365.35,964.60 L366.38,966.21 L367.39,967.82 L368.40,969.44 L369.40,971.07 L370.40,972.70 L371.38,974.33 L372.35,975.97 L373.31,977.62 L374.26,979.27 L375.21,980.93 L376.14,982.60 L377.05,984.27 L377.96,985.94 L378.85,987.63 L379.74,989.31 L380.60,991.01 L381.46,992.71 L382.30,994.41 L383.13,996.12 L383.95,997.84 L384.75,999.56 L385.53,1001.29 L386.30,1003.02 L387.05,1004.76 L387.79,1006.50 L388.52,1008.25 L389.22,1010.01 L389.91,1011.77 L390.58,1013.54 L391.24,1015.31 L391.87,1017.09 L392.49,1018.87 L393.09,1020.66 L393.67,1022.46 L394.24,1024.26 L394.78,1026.06 L395.30,1027.87 L395.80,1029.69 L396.29,1031.51 L396.75,1033.34 L397.19,1035.18 L397.61,1037.02 L398.00,1038.86 L398.38,1040.71 L398.73,1042.57 L399.06,1044.43 L399.37,1046.30 L399.65,1048.17 L399.91,1050.05 L400.14,1051.94 L400.36,1053.83 L400.54,1055.72 L400.71,1057.61 L400.85,1059.51 L400.96,1061.42 L401.05,1063.32 L401.12,1065.23 L401.16,1067.13 L401.17,1069.04 L401.16,1070.95 L401.13,1072.86 L401.07,1074.76 L400.99,1076.67 L400.88,1078.58 L400.74,1080.48 L400.59,1082.38 L400.40,1084.27 L400.19,1086.17 L399.95,1088.06 L399.69,1089.94 L399.41,1091.82 L399.09,1093.69 L398.75,1095.56 L398.39,1097.42 L398.00,1099.28 L397.58,1101.13 L397.14,1102.96 L396.66,1104.79 L396.17,1106.62 L395.64,1108.43 L395.09,1110.23 L394.52,1112.02 L393.91,1113.80 L393.28,1115.57 L392.63,1117.33 L391.94,1119.08 L391.23,1120.81 L390.49,1122.53 L389.72,1124.24 L388.93,1125.93 L388.11,1127.61 L387.26,1129.27 L386.38,1130.92 L385.48,1132.55 L384.54,1134.16 L383.59,1135.76 L382.60,1137.34 L381.59,1138.91 L380.55,1140.46 L379.49,1141.99 L378.40,1143.51 L377.29,1145.01 L376.15,1146.49 L375.00,1147.96 L373.81,1149.41 L372.61,1150.85 L371.38,1152.27 L370.14,1153.68 L368.87,1155.06 L367.58,1156.44 L366.27,1157.79 L364.94,1159.13 L363.59,1160.45 L362.22,1161.76 L360.84,1163.05 L359.44,1164.33 L358.01,1165.59 L356.58,1166.83 L355.12,1168.06 L353.65,1169.27 L352.16,1170.46 L350.66,1171.64 L349.15,1172.80 L347.62,1173.95 L346.07,1175.08 L344.51,1176.20 L342.94,1177.29 L341.36,1178.38 L339.76,1179.44 L338.16,1180.49 L336.54,1181.53 L334.91,1182.54 L333.27,1183.54 L331.62,1184.53 L329.96,1185.50 L328.30,1186.45 L326.62,1187.39 L324.94,1188.31 L323.25,1189.22 L321.55,1190.11 L319.84,1190.98 L318.13,1191.84 L316.42,1192.68 L314.70,1193.51 L312.97,1194.32 L311.24,1195.11 L309.50,1195.89 L307.76,1196.65 L306.02,1197.39 L304.27,1198.13 L302.52,1198.84 L300.76,1199.54 L299.00,1200.23 L297.23,1200.90 L295.46,1201.56 L293.69,1202.20 L291.91,1202.83 L290.13,1203.44 L288.35,1204.04 L286.56,1204.63 L284.76,1205.20 L282.97,1205.76 L281.17,1206.31 L279.36,1206.84 L277.56,1207.36 L275.74,1207.87 L273.93,1208.36 L272.11,1208.84 L270.29,1209.31 L268.46,1209.77 L266.63,1210.22 L264.80,1210.65 L262.97,1211.07 L261.13,1211.48 L259.29,1211.88 L257.44,1212.27 L255.59,1212.65 L253.74,1213.01 L251.89,1213.37 L250.03,1213.71 L248.17,1214.05 L246.31,1214.37 L244.44,1214.68 L242.57,1214.99 L240.70,1215.28 L238.82,1215.56 L236.95,1215.84 L235.07,1216.11 L233.19,1216.36 L231.30,1216.61 L229.41,1216.85 L227.52,1217.08 L225.63,1217.30" stroke="#ff0000" stroke-width="2.40" fill="none" stroke-linejoin="round"/>
<polygon points="305.30,140.40 319.90,131.60 319.90,149.20" fill="#ff00ff"/>
<text x="347" y="149.1" font-family="Liberation Serif, serif" font-size="21.8">Measured (Zhou and Ren 1990)</text>
<path d="M287.50,170.30 H340.00" stroke="#0000ff" stroke-width="2.40" fill="none" stroke-dasharray="10.3 5.2 3.5 5.2 3.5 5.6"/>
<text x="347" y="177.6" font-family="Liberation Serif, serif" font-size="21.8">Zhang et al. (2022)</text>
<path d="M287.50,200.10 H342.70" stroke="#000" stroke-width="2.20" fill="none" stroke-dasharray="6.1 3.85"/>
<text x="346.2" y="207.7" font-family="Liberation Serif, serif" font-size="21.8" xml:space="preserve"> Li et al. (2023)</text>
<path d="M287.50,229.30 H342.20" stroke="#ff0000" stroke-width="2.40" fill="none"/>
<text x="347" y="237.3" font-family="Liberation Serif, serif" font-size="21.8">Proposed</text>
<polygon points="365.20,751.80 379.40,743.50 379.40,760.10" fill="#ff00ff"/>
<text x="406" y="759.2" font-family="Liberation Serif, serif" font-size="20.92">Measured (Zhou and Ren 1990)</text>
<path d="M348.40,780.30 H401.00" stroke="#ff00ff" stroke-width="2.40" fill="none" stroke-dasharray="10.8 10.4"/>
<text x="406" y="788.2" font-family="Liberation Serif, serif" font-size="20.92">Rao et al. (2016)</text>
<path d="M348.40,809.00 H401.00" stroke="#00ffff" stroke-width="2.40" fill="none" stroke-dasharray="10.8 10.4"/>
<text x="406" y="816.6" font-family="Liberation Serif, serif" font-size="20.92">Peng and Zhu (2019)</text>
<path d="M348.40,838.00 H401.00" stroke="#0000ff" stroke-width="2.40" fill="none" stroke-dasharray="10.3 5.2 3.5 5.2 3.5 5.6"/>
<text x="406" y="845.7" font-family="Liberation Serif, serif" font-size="20.92">Zhang et al. (2022)</text>
<path d="M348.40,866.60 H401.00" stroke="#000" stroke-width="2.20" fill="none" stroke-dasharray="8.3 3.4 1.8 3.1"/>
<text x="406" y="873.5" font-family="Liberation Serif, serif" font-size="20.92">Li et al.(2023)</text>
<path d="M348.40,895.40 H401.00" stroke="#ff0000" stroke-width="2.40" fill="none"/>
<text x="406" y="901.9" font-family="Liberation Serif, serif" font-size="20.92">Proposed</text>
<text transform="translate(331.00,17.60) scale(1.22,0.93)" font-family="Liberation Serif, serif" font-size="26.50" font-style="italic">σ</text>
<text x="352.30" y="24.50" font-family="Liberation Serif, serif" font-size="18.50">ahm</text>
<text x="388.80" y="17.60" font-family="Liberation Serif, serif" font-size="26.50">/</text>
<text x="402.50" y="17.60" font-family="Liberation Serif, serif" font-size="26.50">kPa</text>
<text transform="translate(307.50,681.30) scale(1.22,0.93)" font-family="Liberation Serif, serif" font-size="25.50" font-style="italic">σ</text>
<text x="327.70" y="687.80" font-family="Liberation Serif, serif" font-size="18.00">ahm</text>
<text x="362.80" y="681.30" font-family="Liberation Serif, serif" font-size="25.50">/</text>
<text x="376.90" y="681.30" font-family="Liberation Serif, serif" font-size="25.50">kPa</text>
<text transform="translate(37.00,299.00) rotate(-90)" text-anchor="middle" font-family="Liberation Serif, serif" font-size="26"><tspan font-style="italic">y</tspan> / m</text>
<text transform="translate(77.70,955.40) rotate(-90)" text-anchor="middle" font-family="Liberation Serif, serif" font-size="26"><tspan font-style="italic">y</tspan> / m</text>
<text x="345.4" y="628.6" text-anchor="middle" font-family="Liberation Serif, serif" font-size="21.5">(a) <tspan font-style="italic">S</tspan>=0mm</text>
<text x="350.5" y="1282.6" text-anchor="middle" font-family="Liberation Serif, serif" font-size="21.5">(b) <tspan font-style="italic">S</tspan>=39.4mm</text>
</svg>
</body></html>
